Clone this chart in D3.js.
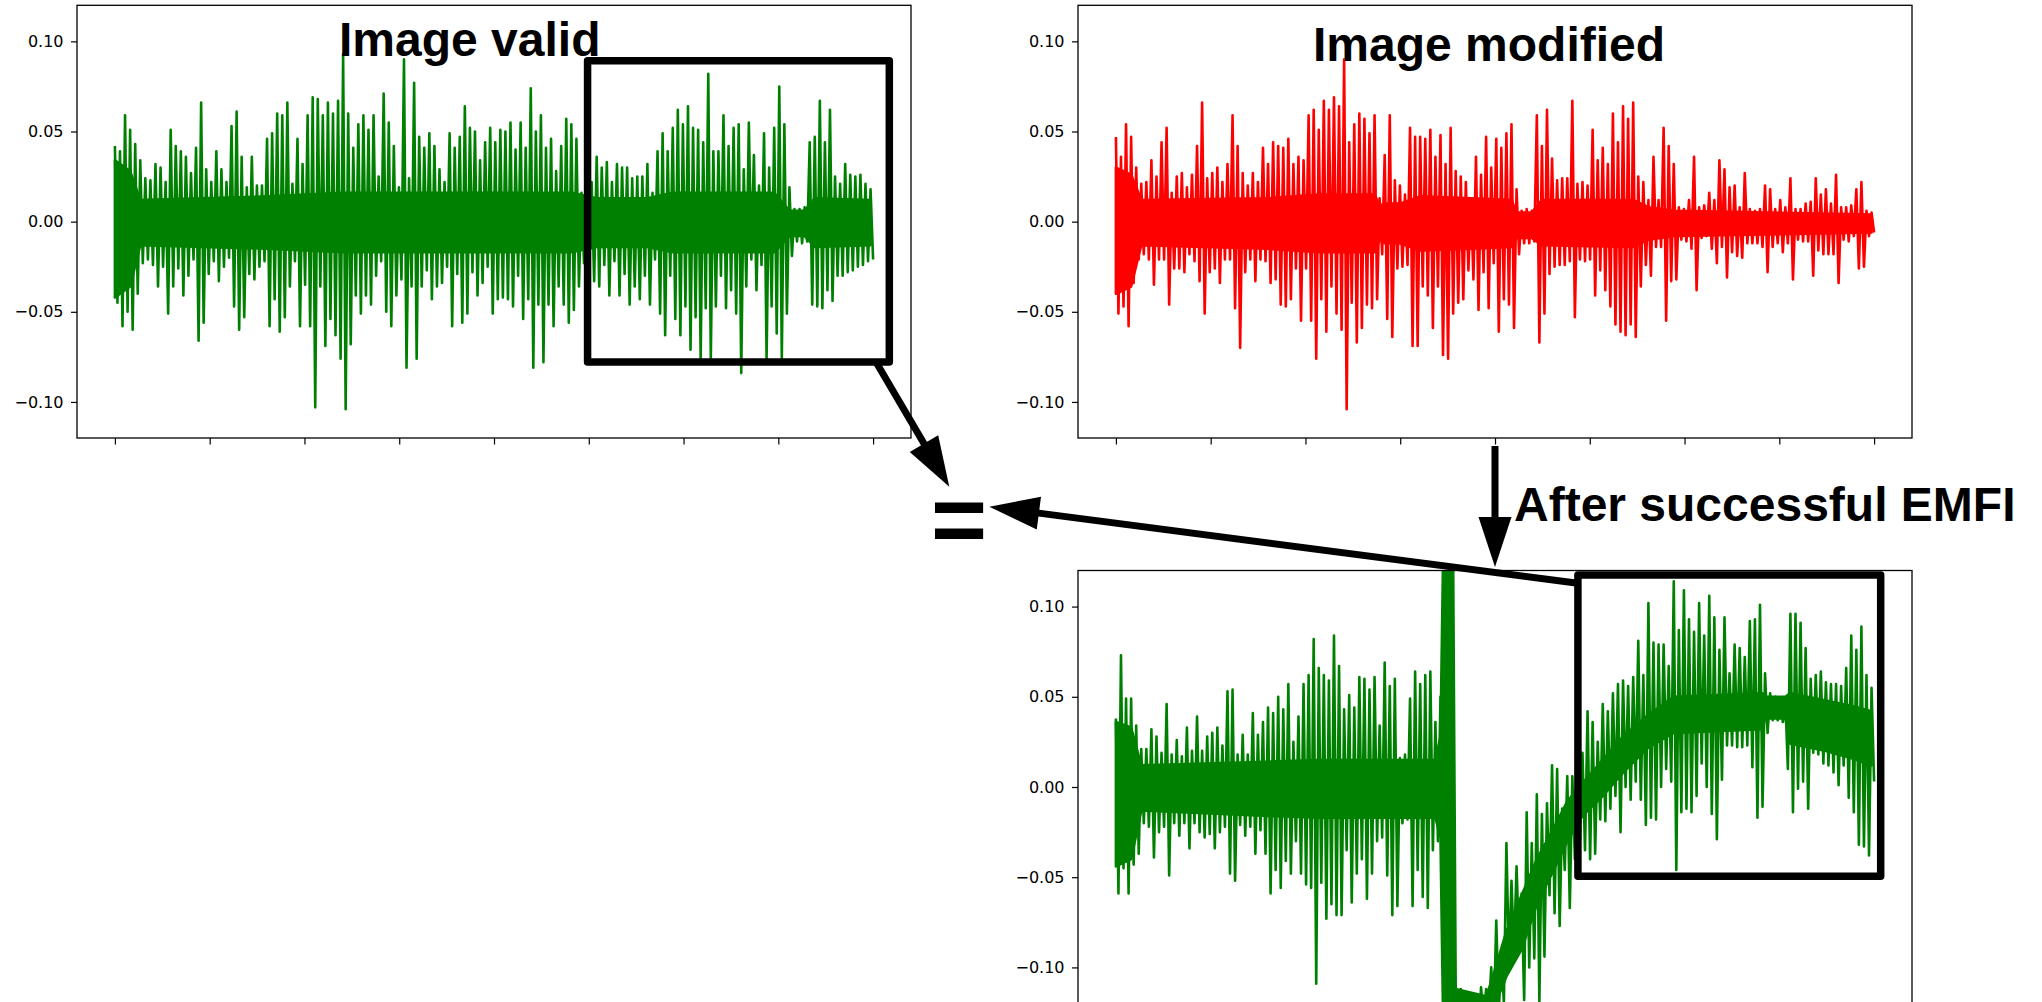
<!DOCTYPE html>
<html><head><meta charset="utf-8">
<script src="https://cdn.jsdelivr.net/npm/d3@7"></script>
<style>body{margin:0;background:#fff;} svg{display:block;}</style>
</head><body>
<svg id="fig" width="2042" height="1002"></svg>
<script>
// ---- data (amplitudes in thousandths of the y unit) ----
const yTickValues = [-100, -50, 0, 50, 100];
const yTickLabels = ["\u22120.10", "\u22120.05", "0.00", "0.05", "0.10"];
const xTickSteps = [0, 1, 2, 3, 4, 5, 6, 7, 8];
const titles = ["Image valid", "Image modified", "After successful EMFI"];
const equalsSign = "=";

// per-column upper / lower extremes
const validHi = [42,39,59,51,43,34,24,23,32,30, 22,51,42,39,36,27,41,66,29,22, 39,29,22,53,61,36,19,36,20,20,
  46,49,60,59,66,21,46,32,59,69, 68,59,66,60,67,93,60,41,54,59, 51,59,25,71,55,42,19,90,24,77,
  47,41,49,42,29,22,49,41,47,64, 52,50,34,44,52,44,51,50,55,40, 55,41,74,50,59,41,46,28,42,57,
  54,46,16,20,22,36,30,33,22,32, 30,30,24,25,25,32,16,39,49,39, 52,62,54,64,52,51,44,82,39,39,
  59,42,52,54,29,55,37,20,49,30, 52,75,54,19,7,7,8,44,47,67, 44,62,25,21,32,26,25,26,21,18];
const validLo = [-45,-58,-50,-60,-40,-23,-21,-24,-36,-25, -51,-36,-26,-41,-30,-21,-66,-56,-29,-22, -33,-25,-20,-47,-60,-53,-29,-32,-25,-22,
  -58,-43,-61,-53,-36,-22,-58,-35,-58,-103, -36,-69,-54,-63,-76,-104,-68,-41,-51,-41, -46,-30,-22,-50,-58,-41,-32,-81,-36,-76,
  -36,-27,-43,-36,-34,-25,-58,-29,-56,-51, -28,-41,-34,-25,-51,-43,-42,-43,-47,-30, -54,-43,-81,-46,-78,-46,-58,-36,-46,-56,
  -49,-36,-23,-26,-33,-36,-24,-41,-22,-41, -29,-46,-36,-43,-30,-46,-21,-51,-63,-30, -54,-63,-47,-71,-53,-76,-48,-76,-47,-30,
  -48,-38,-51,-84,-36,-21,-38,-24,-76,-47, -62,-76,-51,-19,-11,-12,-11,-46,-47,-48, -38,-44,-30,-30,-28,-27,-25,-24,-22,-21];
// dense core band of the trace: sample index, upper edge, lower edge
const validCoreX  = [0, 3, 5, 30, 45, 90, 95, 105, 110, 130, 133, 136, 138, 149];
const validCoreHi = [34, 28, 12, 14, 16, 16, 13, 13, 16, 16, 6, 6, 13, 12];
const validCoreLo = [-42, -36, -13, -15, -17, -17, -14, -14, -17, -17, -8, -8, -14, -13];

const modifiedHi = [47,36,54,47,30,21,22,34,25,44, 52,16,25,27,19,26,42,66,24,27, 30,22,32,59,42,27,20,27,22,41,
  32,44,42,41,46,32,36,34,59,62, 51,67,62,69,64,90,44,54,60,57, 49,59,13,37,59,23,20,15,52,47,
  47,46,51,36,48,32,52,28,25,22, 12,36,26,47,30,46,41,49,54,18, 6,7,6,59,42,62,35,23,24,24,
  67,21,22,20,51,34,41,32,60,44, 64,57,66,25,22,12,36,12,52,42, 32,8,7,12,36,8,9,16,12,34,
  29,19,20,8,27,7,6,7,20,18, 7,12,8,24,7,7,10,11,24,15, 18,10,26,8,8,9,18,22,6,5];
const modifiedLo = [-51,-47,-58,-34,-21,-18,-21,-35,-21,-21, -46,-26,-26,-28,-18,-22,-33,-51,-28,-26, -34,-21,-21,-48,-70,-28,-21,-33,-21,-22,
  -34,-32,-46,-47,-43,-26,-55,-26,-55,-76, -43,-61,-36,-51,-60,-104,-45,-67,-59,-46, -48,-43,-18,-54,-64,-26,-25,-24,-69,-69,
  -36,-41,-59,-36,-74,-76,-51,-45,-43,-27, -32,-49,-28,-48,-23,-61,-43,-46,-59,-18, -12,-12,-11,-67,-51,-29,-25,-24,-24,-22,
  -53,-21,-22,-21,-41,-27,-38,-47,-57,-61, -63,-57,-64,-36,-24,-30,-14,-14,-55,-33, -32,-10,-11,-15,-38,-9,-8,-15,-23,-14,
  -31,-17,-19,-20,-12,-12,-12,-14,-28,-14, -12,-17,-12,-32,-10,-11,-11,-30,-16,-18, -18,-18,-34,-10,-11,-8,-26,-25,-8,-6];
const modifiedCoreX  = [0, 3, 5, 30, 40, 51, 52, 53, 56, 60, 70, 78, 79, 82, 84, 102, 105, 110, 149];
const modifiedCoreHi = [30, 26, 12, 13, 15, 15, 9, 10, 10, 14, 13, 12, 5, 5, 12, 12, 8, 6, 4];
const modifiedCoreLo = [-40, -36, -13, -15, -17, -17, -10, -12, -12, -16, -15, -14, -9, -9, -13, -14, -10, -8, -6];

const emfiHi = [38,73,49,49,34,21,21,32,28,19, 46,18,26,17,33,20,39,20,28,30, 33,23,53,54,18,29,18,41,29,36,
  44,41,50,43,57,25,39,57,62,82, 66,62,59,84,67,43,51,44,61,60, 54,61,34,69,56,60,16,18,49,64,
  57,62,64,36,50,125,125,-110,-112,-118, -120,-122,-111,-112,-100,-74,-92,-31,-52,-44, -59,-14,-31,-4,-15,-9,12,10,-12,6,
  6,19,19,42,36,25,46,42,52,57, 59,56,61,81,62,102,80,79,79,67, 114,87,109,93,86,102,84,106,94,76,
  94,63,79,77,72,92,93,101,63,52, 50,49,49,96,96,91,77,60,62,64, 58,57,57,56,66,84,76,89,62,55];
const emfiLo = [-59,-45,-59,-43,-37,-20,-22,-39,-25,-22, -49,-20,-27,-20,-34,-20,-25,-28,-26,-34, -25,-22,-48,-52,-21,-27,-22,-37,-24,-37,
  -59,-46,-56,-41,-48,-30,-48,-54,-56,-109, -53,-73,-65,-71,-71,-35,-64,-48,-40,-62, -48,-30,-28,-49,-71,-66,-20,-18,-66,-46,
  -61,-67,-35,-30,-49,-125,-130,-130,-132,-135, -135,-138,-130,-128,-130,-125,-120,-98,-92,-88, -118,-100,-95,-119,-94,-60,-70,-77,-46,-67,
  -40,-30,-35,-40,-37,-18,-19,-12,-5,-25, 0,-7,3,-7,-21,-17,-18,0,10,3, -46,-14,-12,-14,-5,13,0,-15,-29,4,
  23,23,22,22,23,11,-17,-11,30,37, 37,36,10,-14,-1,3,-12,19,18,13, 12,8,1,12,-6,-14,-32,-33,-38,3];
const emfiCoreX  = [0, 3, 5, 30, 40, 63, 64, 64.5, 66.5, 67, 73, 74, 77, 80, 83, 86.5, 89, 92, 96, 100, 105, 110, 127.5, 128, 132, 133, 140, 145, 149];
const emfiCoreHi = [36, 33, 12, 14, 15, 15, 28, 125, 125, -112, -116, -108, -80, -60, -40, -22, -8, 2, 15, 28, 40, 50, 52, 50, 50, 52, 48, 45, 42];
const emfiCoreLo = [-44, -40, -13, -16, -17, -17, -28, -125, -125, -135, -135, -126, -105, -90, -65, -45, -30, -16, -5, 8, 22, 30, 32, 38, 38, 24, 20, 16, 12];

// ---- layout ----
const svg = d3.select("#fig");
const panels = [
  {hi: validHi, lo: validLo, cx: validCoreX, chi: validCoreHi, clo: validCoreLo, color: "#008000", left: 77, right: 911, top: 5.3, bottom: 438},
  {hi: modifiedHi, lo: modifiedLo, cx: modifiedCoreX, chi: modifiedCoreHi, clo: modifiedCoreLo, color: "#ff0000", left: 1078, right: 1912, top: 5.3, bottom: 438},
  {hi: emfiHi, lo: emfiLo, cx: emfiCoreX, chi: emfiCoreHi, clo: emfiCoreLo, color: "#008000", left: 1078, right: 1912, top: 570.5, bottom: 1003.5}
];

const scales = [];
panels.forEach((p, k) => {
  const n = p.hi.length;
  const span = n - 0.5;
  const x = d3.scaleLinear().domain([-0.05 * span, 1.05 * span]).range([p.left, p.right]);
  const y = d3.scaleLinear().domain([-120, 120]).range([p.bottom, p.top]);
  scales.push({x, y, span});
  const g = svg.append("g");
  g.append("clipPath").attr("id", "clip" + k).append("rect")
    .attr("x", p.left).attr("y", p.top).attr("width", p.right - p.left).attr("height", p.bottom - p.top);
  const data = g.append("g").attr("clip-path", `url(#clip${k})`);
  // dense core
  const core = p.cx.map((v, i) => [v, p.clo[i], p.chi[i]]);
  data.append("path")
    .attr("d", d3.area().x(d => x(d[0])).y0(d => y(d[1])).y1(d => y(d[2]))(core))
    .attr("fill", p.color).attr("stroke", p.color).attr("stroke-width", 2.6).attr("stroke-linejoin", "round");
  // spiky trace
  const pts = [];
  p.hi.forEach((v, i) => { pts.push([i, v]); pts.push([i + 0.5, p.lo[i]]); });
  data.append("path")
    .attr("d", d3.line().x(d => x(d[0])).y(d => y(d[1]))(pts))
    .attr("fill", "none").attr("stroke", p.color).attr("stroke-width", 2.6)
    .attr("stroke-linejoin", "round");
  // frame
  g.append("rect").attr("x", p.left).attr("y", p.top)
    .attr("width", p.right - p.left).attr("height", p.bottom - p.top)
    .attr("fill", "none").attr("stroke", "#000").attr("stroke-width", 1.3);
  // y axis
  const ya = d3.axisLeft(y).tickValues(yTickValues).tickSize(6).tickPadding(7.5)
    .tickFormat((d, i) => yTickLabels[i]);
  const yg = g.append("g").attr("transform", `translate(${p.left},0)`).call(ya);
  yg.select(".domain").remove();
  yg.selectAll("text").attr("font-family", "DejaVu Sans").attr("font-size", 16).attr("fill", "#000");
  yg.selectAll("line").attr("stroke", "#000").attr("stroke-width", 1.2);
  // x axis (ticks without labels)
  const xa = d3.axisBottom(x).tickValues(xTickSteps.map(s => span * s / 8)).tickSize(6.5).tickFormat("");
  const xg = g.append("g").attr("transform", `translate(0,${p.bottom})`).call(xa);
  xg.select(".domain").remove();
  xg.selectAll("line").attr("stroke", "#000").attr("stroke-width", 1.2);
});

// zoom boxes (in data coordinates of their panels)
const boxes = [
  {panel: 0, x0: 93.2, x1: 152.7, y0: 89.2, y1: -77.8},
  {panel: 2, x0: 91.1, x1: 150.8, y0: 117.5, y1: -49.5}
];
boxes.forEach(b => {
  const s = scales[b.panel];
  svg.append("rect")
    .attr("x", s.x(b.x0)).attr("y", s.y(b.y0))
    .attr("width", s.x(b.x1) - s.x(b.x0)).attr("height", s.y(b.y1) - s.y(b.y0))
    .attr("fill", "none").attr("stroke", "#000").attr("stroke-width", 7.5)
    .attr("stroke-linejoin", "round");
});

// arrows (figure pixel coordinates)
const arrows = [
  {x1: 876, y1: 362, x2: 949.3, y2: 486.7},
  {x1: 1576, y1: 583, x2: 989.3, y2: 506.7},
  {x1: 1495, y1: 446, x2: 1495, y2: 567}
];
arrows.forEach(a => {
  const dx = a.x2 - a.x1, dy = a.y2 - a.y1, L = Math.hypot(dx, dy);
  const ux = dx / L, uy = dy / L, hl = 50, hw = 16.5;
  const bx = a.x2 - ux * hl, by = a.y2 - uy * hl;
  svg.append("line").attr("x1", a.x1).attr("y1", a.y1).attr("x2", bx + ux * 2).attr("y2", by + uy * 2)
    .attr("stroke", "#000").attr("stroke-width", 7);
  svg.append("path")
    .attr("d", `M${a.x2},${a.y2}L${bx - uy * hw},${by + ux * hw}L${bx + uy * hw},${by - ux * hw}Z`)
    .attr("fill", "#000");
});

// titles
const titlePos = [[339, 55.5], [1313, 60.5], [1514, 521]];
titles.forEach((t, i) => {
  svg.append("text").attr("x", titlePos[i][0]).attr("y", titlePos[i][1])
    .attr("font-family", "Liberation Sans, Arial, sans-serif").attr("font-weight", "bold")
    .attr("font-size", 48).attr("fill", "#000").text(t);
});
svg.append("text").attr("x", 931).attr("y", 553)
  .attr("font-family", "Liberation Sans, Arial, sans-serif").attr("font-weight", "bold")
  .attr("font-size", 96).attr("fill", "#000").text(equalsSign);
</script>
</body></html>
